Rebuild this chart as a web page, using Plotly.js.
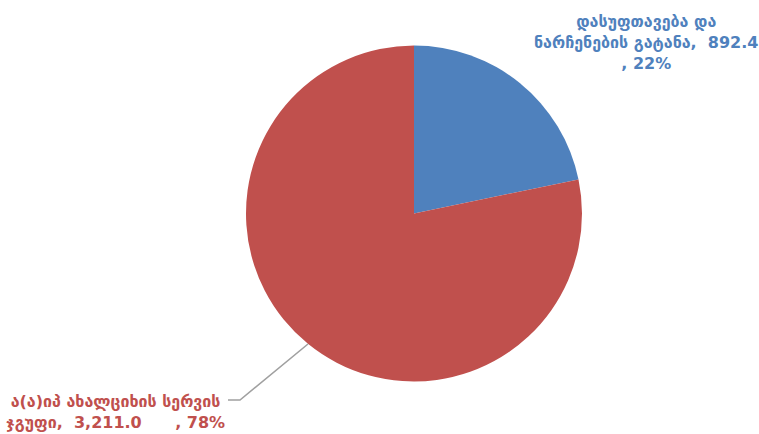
<!DOCTYPE html>
<html>
<head>
<meta charset="utf-8">
<script src="https://cdn.plot.ly/plotly-3.0.1.min.js"></script>
<style>html,body{margin:0;padding:0;background:#fff}#chart{width:759px;height:434px}</style>
</head>
<body>
<div id="chart"></div>
<script>
const labels = ["დასუფთავება და ნარჩენების გატანა", "ა(ა)იპ ახალციხის სერვის ჯგუფი"];
const values = [892.4, 3211.0];
const valueText = ["892.4", "3,211.0"];
const colors = ["#4F81BD", "#C0504D"];

const total = values.reduce((a, b) => a + b, 0);
const pct = values.map(v => Math.round(v / total * 100) + "%");

const W = 759, H = 434;
const cx = 414, cy = 213.5, r = 168;

const trace = {
  type: "pie",
  labels: labels,
  values: values,
  marker: {colors: colors, line: {color: "#ffffff", width: 0}},
  sort: false,
  direction: "clockwise",
  rotation: 0,
  textinfo: "none",
  hoverinfo: "label+value+percent",
  showlegend: false,
  domain: {x: [(cx - r) / W, (cx + r) / W], y: [(H - cy - r) / H, (H - cy + r) / H]}
};

const font = (c) => ({family: "DejaVu Sans, sans-serif", size: 16, color: c, weight: "bold"});

const ann0 = "დასუფთავება და<br>ნარჩენების გატანა,&nbsp; " + valueText[0] + "<br>, " + pct[0];
const ann1 = "ა(ა)იპ ახალციხის სერვის<br>ჯგუფი,&nbsp; " + valueText[1] + "&nbsp;&nbsp;&nbsp;&nbsp;&nbsp;&nbsp;, " + pct[1];

const layout = {
  width: W, height: H,
  margin: {l: 0, r: 0, t: 0, b: 0},
  paper_bgcolor: "#ffffff",
  annotations: [
    {text: ann0, x: 646 / W, y: 1 - 42 / H, xref: "paper", yref: "paper", xanchor: "center", yanchor: "middle", showarrow: false, align: "center", font: font(colors[0])},
    {text: ann1, x: 116 / W, y: 1 - 412 / H, xref: "paper", yref: "paper", xanchor: "center", yanchor: "middle", showarrow: false, align: "center", font: font(colors[1])}
  ],
  shapes: [
    {type: "path", xref: "paper", yref: "paper",
     path: "M " + (228 / W) + " " + (1 - 400 / H) + " L " + (240 / W) + " " + (1 - 400 / H) + " L " + (308 / W) + " " + (1 - 344 / H),
     line: {color: "#A0A0A0", width: 1.6}}
  ]
};

Plotly.newPlot("chart", [trace], layout, {displayModeBar: false, staticPlot: true});
</script>
</body>
</html>
